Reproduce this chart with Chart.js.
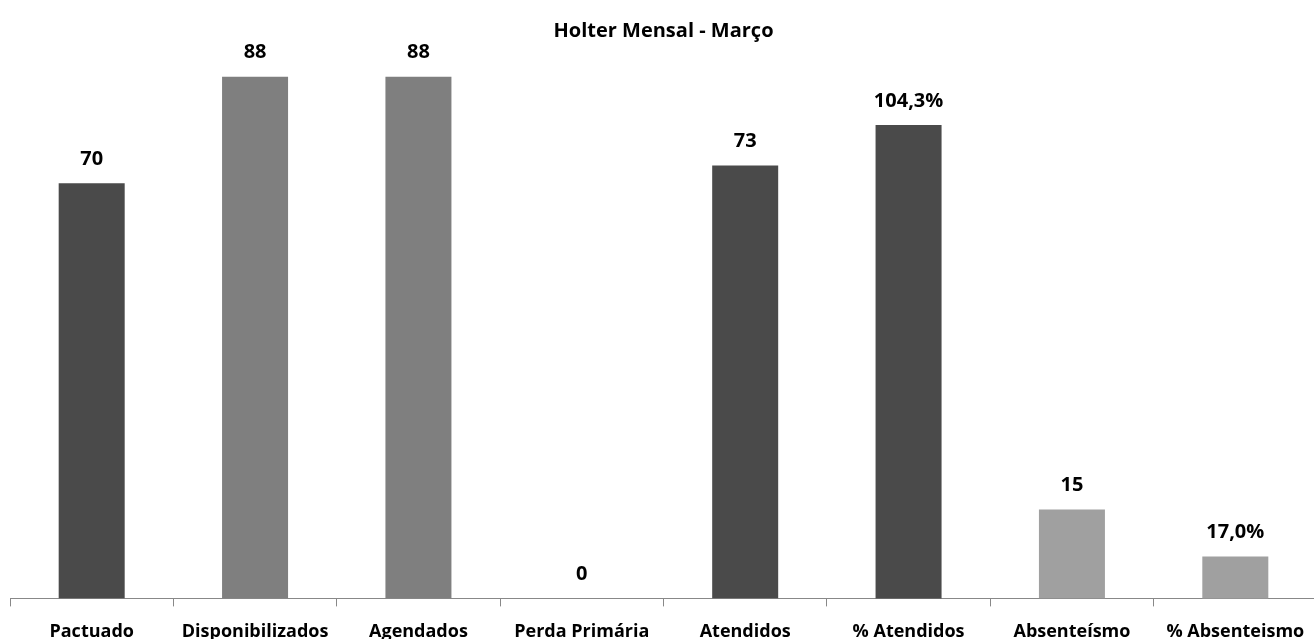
<!DOCTYPE html>
<html>
<head>
<meta charset="utf-8">
<script src="https://cdn.jsdelivr.net/npm/chart.js@4"></script>
<style>
  html, body { margin: 0; padding: 0; background: #fff; overflow: hidden; }
  #moldura { width: 1314px; height: 639px; overflow: hidden; position: relative; }
  #holterChart { position: absolute; left: 0; top: 0; }
</style>
</head>
<body>
<div id="moldura"><canvas id="holterChart" width="1320" height="660"></canvas></div>
<script>
// Holter mensal - março
const categorias = ['Pactuado', 'Disponibilizados', 'Agendados', 'Perda Primária', 'Atendidos', '% Atendidos', 'Absenteísmo', '% Absenteismo'];
const quantidades = [70, 88, 88, 0, 73, null, 15, null];
const percentuais = [null, null, null, null, null, 104.3, null, 17.0];
const cores = ['#4a4a4a', '#7f7f7f', '#7f7f7f', '#7f7f7f', '#4a4a4a', '#4a4a4a', '#a0a0a0', '#a0a0a0'];

const FONTE = "'Open Sans', 'DejaVu Sans', sans-serif";

// rótulos de valor acima das barras
const rotulos = {
    id: 'rotulos',
    afterDatasetsDraw(chart) {
        const ctx = chart.ctx;
        ctx.save();
        ctx.font = 'bold 20px ' + FONTE;
        ctx.fillStyle = '#000';
        ctx.textAlign = 'center';
        ctx.textBaseline = 'middle';
        chart.data.datasets.forEach((ds, i) => {
            const meta = chart.getDatasetMeta(i);
            meta.data.forEach((bar, j) => {
                const v = ds.data[j];
                if (v === null || v === undefined) return;
                const txt = ds.yAxisID === 'y2' ? v.toFixed(1).replace('.', ',') + '%' : String(v);
                ctx.fillText(txt, bar.x, bar.y - 24);
            });
        });
        ctx.restore();
    }
};

new Chart(document.getElementById('holterChart'), {
    type: 'bar',
    data: {
        labels: categorias,
        datasets: [
            {
                label: 'Quantidade',
                data: quantidades,
                yAxisID: 'y',
                backgroundColor: cores,
                grouped: false,
                barPercentage: 0.404,
                categoryPercentage: 1
            },
            {
                label: 'Percentual',
                data: percentuais,
                yAxisID: 'y2',
                backgroundColor: cores,
                grouped: false,
                barPercentage: 0.404,
                categoryPercentage: 1
            }
        ]
    },
    options: {
        responsive: false,
        animation: false,
        layout: { padding: { left: 10, right: 3, top: 0, bottom: 2 } },
        plugins: {
            legend: { display: false },
            tooltip: { enabled: false },
            title: {
                display: true,
                text: 'Holter Mensal - Março',
                color: '#000',
                font: { family: FONTE, size: 20, weight: 'bold' },
                padding: { top: 19, bottom: 4 }
            }
        },
        scales: {
            x: {
                grid: { offset: true, drawOnChartArea: false, color: '#888', tickLength: 8 },
                border: { display: true, color: '#888', width: 1 },
                ticks: { color: '#000', font: { family: FONTE, size: 18, weight: 'bold' }, padding: 15, maxRotation: 0, autoSkip: false }
            },
            y: { display: false, min: 0, max: 93 },
            y2: { display: false, min: 8.5, max: 120.1 }
        }
    },
    plugins: [rotulos]
});
</script>
</body>
</html>
